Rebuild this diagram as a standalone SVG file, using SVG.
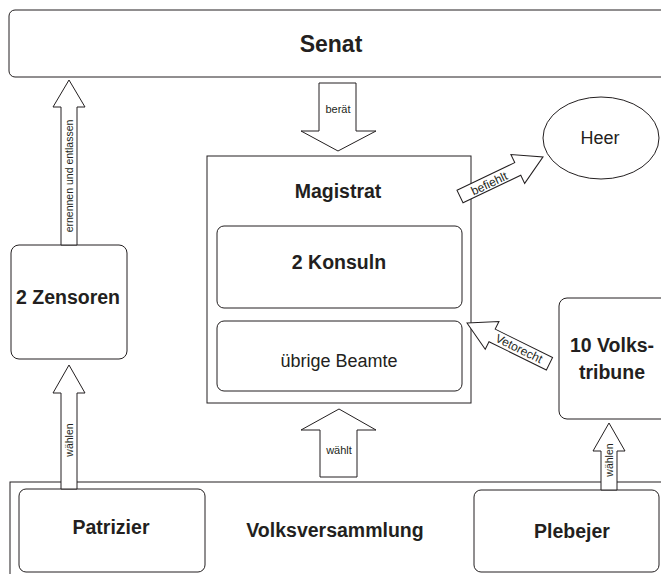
<svg xmlns="http://www.w3.org/2000/svg" width="661" height="574" viewBox="0 0 661 574">
<style>
.box{fill:#fff;stroke:#231f20;stroke-width:1}
.arr{fill:#fff;stroke:#231f20;stroke-width:1}
text{font-family:"Liberation Sans",Arial,sans-serif;fill:#231f20;text-anchor:middle}
.b{font-weight:bold;font-size:19.5px}
.r{font-size:18px}
.s{font-size:11px}
</style>
<rect width="661" height="574" fill="#fff"/>
<g id="volksversammlung">
<rect class="box" x="10" y="482" width="660" height="110"/>
<text class="b" x="335" y="537">Volksversammlung</text>
</g>
<g id="senat">
<rect class="box" x="9" y="10" width="660" height="67" rx="6"/>
<text class="b" x="331" y="52" style="font-size:23px">Senat</text>
</g>
<g id="magistrat">
<rect class="box" x="207" y="156" width="264" height="247"/>
<text class="b" x="338" y="198">Magistrat</text>
</g>
<g id="konsuln">
<rect class="box" x="217" y="226" width="245" height="82" rx="7"/>
<text class="b" x="339" y="269">2 Konsuln</text>
</g>
<g id="beamte">
<rect class="box" x="217" y="321" width="245" height="70" rx="7"/>
<text class="r" x="339" y="367">übrige Beamte</text>
</g>
<g id="heer">
<ellipse class="box" cx="601" cy="138" rx="58" ry="41"/>
<text class="r" x="600" y="144">Heer</text>
</g>
<g id="zensoren">
<rect class="box" x="11" y="245" width="116" height="114" rx="8"/>
<text class="b" x="68" y="304">2 Zensoren</text>
</g>
<g id="volkstribune">
<rect class="box" x="559" y="298" width="110" height="121" rx="8"/>
<text class="b" x="612" y="352">10 Volks-</text>
<text class="b" x="612" y="379">tribune</text>
</g>
<g id="patrizier">
<rect class="box" x="19" y="489" width="186" height="83" rx="7"/>
<text class="b" x="111" y="534">Patrizier</text>
</g>
<g id="plebejer">
<rect class="box" x="474" y="490" width="185" height="82" rx="7"/>
<text class="b" x="572" y="538">Plebejer</text>
</g>
<g id="connectors">
<polygon class="arr" points="319,83 356,83 356,131 376,131 338,151 301,131 319,131"/>
<text class="s" x="338" y="113">berät</text>
<polygon class="arr" points="320,477 357,477 357,430 376,430 339,409 301,430 320,430"/>
<text class="s" x="339" y="454">wählt</text>
<polygon class="arr" points="61,245 77,245 77,107 85,107 69,80 53,107 61,107"/>
<text class="s" transform="translate(69,176) rotate(-90)" dominant-baseline="central" style="font-size:10.5px">ernennen und entlassen</text>
<polygon class="arr" points="61,489 77,489 77,393 85,393 69,365 53,393 61,393"/>
<text class="s" transform="translate(69,440) rotate(-90)" dominant-baseline="central" style="font-size:10.5px">wählen</text>
<polygon class="arr" points="601,490 617,490 617,451 625,451 609,423 593,451 601,451"/>
<text class="s" transform="translate(609,460) rotate(-90)" dominant-baseline="central" style="font-size:10.5px">wählen</text>
<g transform="translate(460,196.5) rotate(-25.5)">
<polygon class="arr" points="0,-7 64,-7 64,-16 92,0 64,16 64,7 0,7"/>
<text class="s" x="32" y="1" dominant-baseline="central" style="font-size:12px">befiehlt</text>
</g>
<g transform="translate(467,323) rotate(26.3)">
<polygon class="arr" points="0,0 28,-15.5 28,-7 92,-7 92,7 28,7 28,15.5"/>
<text class="s" x="58" y="0" dominant-baseline="central" style="font-size:12px">Vetorecht</text>
</g>
</g>
</svg>
